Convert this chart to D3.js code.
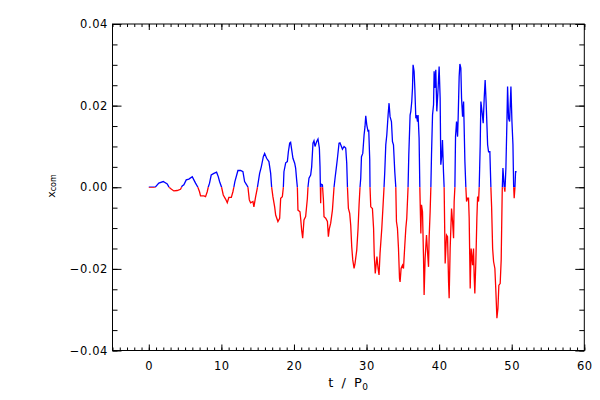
<!DOCTYPE html>
<html>
<head>
<meta charset="utf-8">
<script src="https://cdn.jsdelivr.net/npm/d3@7"></script>
<style>
html,body{margin:0;padding:0;background:#fff;}
svg{display:block;}
text{font-family:"DejaVu Sans",sans-serif;fill:#000;}
</style>
</head>
<body>
<svg id="chart" width="600" height="400"></svg>
<script>
// ---- data ----
const xTicks = [0, 10, 20, 30, 40, 50, 60];
const yTicks = [-0.04, -0.02, 0.00, 0.02, 0.04];
const xLabels = ["0", "10", "20", "30", "40", "50", "60"];
const yLabels = ["\u22120.04", "\u22120.02", "0.00", "0.02", "0.04"];

const timeVals = [
0,0.69,0.92,1.38,1.99,2.54,2.76,2.99,3.45,3.91,
4.37,4.6,4.83,5.16,5.52,5.99,6.21,6.44,6.76,6.99,
7.13,7.59,7.82,8.05,8.19,8.37,8.6,8.97,9.34,9.57,
9.75,10.03,10.26,10.58,10.81,11.03,11.37,11.59,11.72,11.86,
12.28,12.65,12.97,13.2,13.48,13.66,13.85,14.03,14.35,14.48,
14.72,14.95,15.27,15.5,15.78,15.96,16.23,16.55,16.79,16.92,
17.1,17.34,17.48,17.79,18.03,18.17,18.4,18.54,18.62,18.86,
19.09,19.23,19.41,19.54,19.68,19.86,20.1,20.23,20.37,20.47,
20.55,20.83,20.92,21.06,21.2,21.38,21.61,21.85,21.93,22.07,
22.3,22.44,22.62,22.76,22.9,23.13,23.31,23.5,23.59,23.68,
23.72,23.92,24.06,24.14,24.37,24.61,24.74,24.88,25.06,25.3,
25.52,25.66,25.85,25.99,26.21,26.34,26.54,26.68,26.9,27.13,
27.27,27.37,27.5,27.68,27.82,27.96,28.1,28.28,28.41,28.65,
28.83,28.97,29.1,29.2,29.3,29.48,29.66,29.79,29.89,30.03,
30.21,30.3,30.44,30.48,30.58,30.81,30.97,31.06,31.2,31.43,
31.59,31.72,31.86,32.1,32.28,32.41,32.51,32.65,32.79,32.97,
33.1,33.24,33.43,33.57,33.71,33.89,34.03,34.12,34.26,34.4,
34.54,34.62,34.76,34.95,35.09,35.27,35.41,35.54,35.72,35.82,
36,36.1,36.23,36.33,36.41,36.55,36.65,36.79,36.88,37.02,
37.1,37.24,37.34,37.48,37.57,37.71,37.85,37.93,38.07,38.26,
38.4,38.54,38.62,38.76,38.86,38.95,39.09,39.23,39.31,39.41,
39.54,39.68,39.86,40,40.14,40.23,40.37,40.46,40.6,40.69,
40.79,40.83,41.02,41.16,41.3,41.38,41.52,41.71,41.85,41.99,
42.07,42.17,42.26,42.4,42.54,42.62,42.76,42.86,42.99,43.09,
43.23,43.37,43.55,43.68,43.78,43.91,44.05,44.14,44.28,44.41,
44.61,44.74,44.83,44.92,45.06,45.2,45.3,45.43,45.52,45.66,
45.75,45.93,46.07,46.21,46.34,46.48,46.68,46.81,46.99,47.13,
47.23,47.37,47.5,47.68,47.82,47.96,48.1,48.23,48.41,48.55,
48.69,48.79,48.97,49.06,49.2,49.34,49.43,49.57,49.71,49.89,
50.03,50.17,50.26,50.34,50.44,50.53,50.67
];

const xcomVals = [
0,0,0.0001,0.001,0.0014,0.0008,0.0001,-0.0003,-0.0009,-0.0008,
-0.0005,0.0003,0.0006,0.0018,0.002,0.0026,0.0018,0.001,0,-0.0011,
-0.0021,-0.0021,-0.0023,-0.0011,0,0.001,0.003,0.0034,0.0037,0.0026,
0.0014,0,-0.0019,-0.0029,-0.0038,-0.0025,-0.0025,-0.0011,0,0.0014,
0.0041,0.0041,0.0038,0.0014,0.0006,0,-0.0031,-0.0038,-0.0035,-0.0048,
-0.0023,-0.0002,0.0034,0.005,0.0075,0.0083,0.0071,0.0063,0.0034,0.0001,
-0.0023,-0.0048,-0.0068,-0.0084,-0.0076,-0.0027,-0.0023,0,0.0038,0.006,
0.0063,0.0087,0.0108,0.011,0.0093,0.0071,0.0059,0.0047,0.0018,0,
-0.0056,-0.006,-0.0076,-0.0105,-0.0125,-0.008,-0.0072,-0.0027,0,0.0022,
0.003,0.005,0.0108,0.0114,0.01,0.0112,0.0118,0.0096,0.005,-0.0039,
0.0008,0.0006,-0.0031,-0.0072,-0.0076,-0.0084,-0.0121,-0.0101,-0.0088,-0.0056,
0,0.0022,0.005,0.0071,0.0108,0.0109,0.01,0.0093,0.01,0.0096,
0.0059,0,-0.0052,-0.0064,-0.0093,-0.0146,-0.0178,-0.0199,-0.0187,-0.0154,
-0.0101,-0.0043,0,0.0022,0.0075,0.0083,0.0128,0.0149,0.0175,0.0153,
0.0136,0.0141,0.0067,0,-0.0048,-0.0052,-0.0101,-0.0166,-0.0211,-0.017,
-0.0199,-0.0215,-0.0162,-0.0101,-0.0043,0,0.0038,0.0104,0.0128,0.0177,
0.0206,0.0173,0.0161,0.0112,0.0104,0.0038,0,-0.0084,-0.0101,-0.015,
-0.0223,-0.0232,-0.0199,-0.0191,-0.0199,-0.0142,-0.0101,-0.0076,0,0.0079,
0.0177,0.0186,0.021,0.0243,0.03,0.0284,0.0243,0.0169,0.0177,0.0161,
0.0177,0.012,0,-0.0113,-0.0043,-0.006,-0.0174,-0.0264,-0.0174,-0.0117,
-0.0158,-0.0195,-0.0125,-0.006,0,0.0079,0.0177,0.0202,0.0284,0.0243,
0.0288,0.0186,0.0243,0.0296,0.0218,0.0055,0.0079,0.0116,0.0038,0,
-0.0133,-0.0187,-0.0117,-0.0121,-0.0232,-0.0272,-0.015,-0.0052,-0.0084,-0.0125,
-0.0035,0,0.0124,0.0161,0.0124,0.0169,0.0271,0.0302,0.0292,0.0218,
0.0173,0.021,0.0063,0,-0.0035,-0.0027,-0.0027,-0.0076,-0.0248,-0.015,
-0.0191,-0.015,-0.0219,-0.026,-0.0182,-0.0076,-0.0023,-0.0035,0,0.0104,
0.021,0.0182,0.0157,0.0218,0.0263,0.0206,0.0104,0.0087,0.0087,0,
-0.0048,-0.015,-0.0182,-0.0199,-0.0256,-0.0321,-0.0297,-0.024,-0.0236,-0.0178,
-0.0011,0.0047,0.0001,-0.0011,0.0047,0.0161,0.0247,0.0169,0.0161,0.0247,
0.0161,0.0104,0.0006,-0.0027,-0.0002,0.0038,0.0038
];

// ---- layout ----
const L = 112.5, R = 584.3, T = 24, B = 350.5;
const svg = d3.select("#chart");

const x = d3.scaleLinear().domain([-5, 60]).range([L, R]);
const y = d3.scaleLinear().domain([-0.04, 0.04]).range([B, T]);

const xMinor = d3.range(-5, 61, 1);
const yMinor = d3.range(-0.04, 0.0401, 0.005);

const pts = timeVals.map((t, i) => [t, xcomVals[i]]);

// clip paths for positive / negative colouring
const defs = svg.append("defs");
defs.append("clipPath").attr("id", "clipPos").append("rect")
  .attr("x", L).attr("y", T).attr("width", R - L).attr("height", y(0) - T);
defs.append("clipPath").attr("id", "clipNeg").append("rect")
  .attr("x", L).attr("y", y(0)).attr("width", R - L).attr("height", B - y(0));

const line = d3.line().x(d => x(d[0])).y(d => y(d[1]));

svg.append("path").datum(pts)
  .attr("d", line).attr("fill", "none").attr("stroke", "#0000ff")
  .attr("stroke-width", 1.3).attr("stroke-linejoin", "miter")
  .attr("clip-path", "url(#clipPos)");
svg.append("path").datum(pts)
  .attr("d", line).attr("fill", "none").attr("stroke", "#ff0000")
  .attr("stroke-width", 1.3).attr("stroke-linejoin", "miter")
  .attr("clip-path", "url(#clipNeg)");

// ---- axes ----
function styleAxis(g) {
  g.select(".domain").remove();
  g.selectAll("line").attr("stroke", "#000").attr("stroke-width", 1);
  g.selectAll("text").style("font-family", "'DejaVu Sans',sans-serif")
    .style("font-size", "11.5px").style("letter-spacing", "0.6px").attr("fill", "#000");
}

// bottom
svg.append("g").attr("transform", `translate(0,${B})`)
  .call(d3.axisBottom(x).tickValues(xMinor).tickSize(-3).tickFormat(""))
  .call(styleAxis);
svg.append("g").attr("transform", `translate(0,${B})`)
  .call(d3.axisBottom(x).tickValues(xTicks).tickSize(-6).tickPadding(11)
    .tickFormat((d, i) => xLabels[i]))
  .call(styleAxis);
// top
svg.append("g").attr("transform", `translate(0,${T})`)
  .call(d3.axisTop(x).tickValues(xMinor).tickSize(-3).tickFormat(""))
  .call(styleAxis);
svg.append("g").attr("transform", `translate(0,${T})`)
  .call(d3.axisTop(x).tickValues(xTicks).tickSize(-6).tickFormat(""))
  .call(styleAxis);
// left
svg.append("g").attr("transform", `translate(${L},0)`)
  .call(d3.axisLeft(y).tickValues(yMinor).tickSize(-5).tickFormat(""))
  .call(styleAxis);
svg.append("g").attr("transform", `translate(${L},0)`)
  .call(d3.axisLeft(y).tickValues(yTicks).tickSize(-9).tickPadding(4.5)
    .tickFormat((d, i) => yLabels[i]))
  .call(styleAxis);
// right
svg.append("g").attr("transform", `translate(${R},0)`)
  .call(d3.axisRight(y).tickValues(yMinor).tickSize(-5).tickFormat(""))
  .call(styleAxis);
svg.append("g").attr("transform", `translate(${R},0)`)
  .call(d3.axisRight(y).tickValues(yTicks).tickSize(-9).tickFormat(""))
  .call(styleAxis);

// frame
svg.append("rect").attr("x", L).attr("y", T).attr("width", R - L).attr("height", B - T)
  .attr("fill", "none").attr("stroke", "#000").attr("stroke-width", 1);

// ---- titles ----
const xt = svg.append("text").attr("x", (L + R) / 2).attr("y", 387)
  .attr("text-anchor", "middle").style("font-size", "13px")
  .style("word-spacing", "3px").style("letter-spacing", "0.5px");
xt.append("tspan").text("t / P");
xt.append("tspan").attr("dy", 3).style("font-size", "9px").text("0");

const yt = svg.append("text").attr("transform", "translate(55,186) rotate(-90)")
  .attr("text-anchor", "middle").style("font-size", "11px");
yt.append("tspan").text("x");
yt.append("tspan").attr("dy", 1).style("font-size", "8px").text("com");
</script>
</body>
</html>
